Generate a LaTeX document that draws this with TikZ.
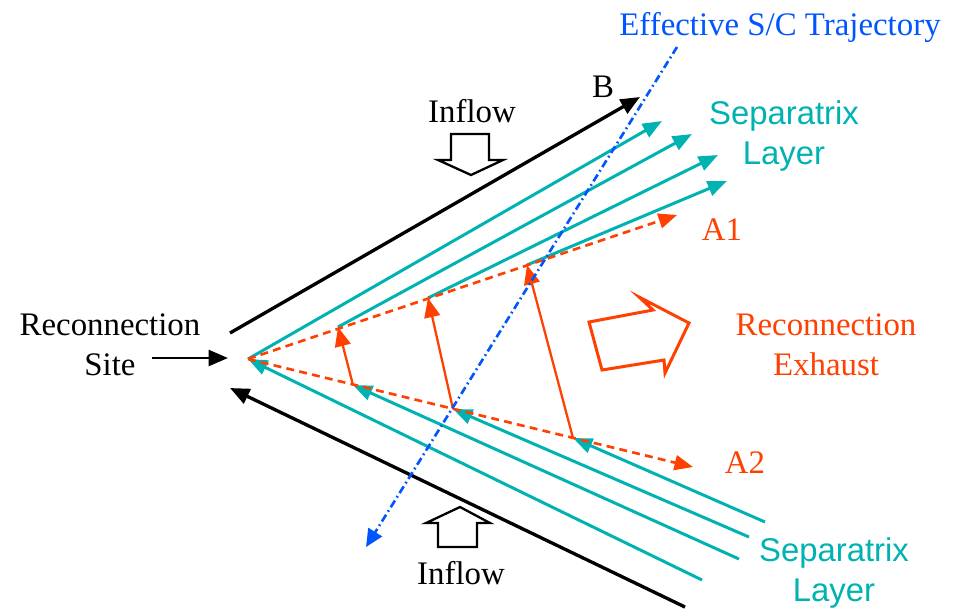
\documentclass[tikz,border=0pt]{standalone}
\usepackage{fontspec}
\setmainfont{Liberation Serif}
\newfontfamily\sepfont{Liberation Sans}
\usetikzlibrary{arrows.meta, positioning}

\definecolor{sepcol}{RGB}{0,178,178}
\definecolor{exhcol}{RGB}{255,64,0}
\definecolor{sccol}{RGB}{0,85,255}

\tikzset{
    label text/.style={inner sep=0pt, anchor=base, align=center,
        font=\fontsize{18.7}{22.7}\selectfont},
    fieldline/.style={black, line width=1.9pt, -{Triangle[length=11pt, width=9pt]}},
    sepline/.style={sepcol, line width=1.7pt, -{Triangle[length=11pt, width=8.5pt]}},
    exhline/.style={exhcol, line width=1.5pt, -{Triangle[length=10.5pt, width=8.5pt]}},
    hollow/.style={black, line width=1.3pt, fill=white, line join=miter},
}

\begin{document}
\begin{tikzpicture}[x=0.02cm, y=-0.02cm]
    \useasboundingbox (0,0) rectangle (955,609);

    % Reconnection site and exhaust edges
    \coordinate (X) at (248,359);
    \coordinate (A1end) at (677,215);
    \coordinate (A2end) at (693,467);
    \foreach \n/\x/\y in {u1/338/327, u2/428/298, u3/527/265, l1/353/385, l2/453/409, l3/573/438}
        \coordinate (\n) at (\x,\y);

    % Separatrix ends
    \foreach \n/\x/\y in {t1/662/121, t2/692/134, t3/718/155, t4/727/181,
                          b1/702/580, b2/739/559, b3/749/537, b4/765/522}
        \coordinate (\n) at (\x,\y);

    % Field lines outside the layer
    \coordinate (Bstart) at (230,333);
    \coordinate (Bend) at (640,97);
    \coordinate (Cstart) at (685,607);
    \coordinate (Cend) at (230,388);
    \draw[fieldline] (Bstart) -- (Bend);
    \draw[fieldline] (Cstart) -- (Cend);
    \node[label text] (Blabel) at (603,97) {B};

    % Separatrix layer
    \foreach \s/\e in {X/t1, u1/t2, u2/t3, u3/t4, b1/X, b2/l1, b3/l2, b4/l3}
        \draw[sepline] (\s) -- (\e);

    % Exhaust boundaries
    \draw[exhline, dash pattern=on 4.5pt off 3pt] (X) -- (A1end);
    \draw[exhline, dash pattern=on 4.5pt off 3pt] (X) -- (A2end);
    \foreach \s/\e in {l1/u1, l2/u2, l3/u3}
        \draw[exhline, line width=1.3pt, -{Triangle[length=11pt, width=9pt]}] (\s) -- (\e);
    \node[label text, exhcol] (A1) at (722,240) {A1};
    \node[label text, exhcol] (A2) at (745,473) {A2};

    % Spacecraft trajectory
    \coordinate (SCstart) at (677,47);
    \coordinate (SCend) at (366,547);
    \draw[sccol, line width=1.5pt, dash pattern=on 4.5pt off 2pt on 1pt off 2pt,
          -{Triangle[length=10pt, width=9pt]}] (SCstart) -- (SCend);
    \node[label text, sccol] (SClabel) at (780,35) {Effective S/C Trajectory};

    % Inflow arrows
    \draw[hollow] (451,134) -- (489,134) -- (489,160) -- (503,160) -- (471,175)
        -- (438,160) -- (451,160) -- cycle;
    \draw[hollow] (438,547) -- (477,547) -- (477,523) -- (490,523) -- (460,507)
        -- (426,523) -- (438,523) -- cycle;
    \node[label text] (inflowA) at (472,122) {Inflow};
    \node[label text] (inflowB) at (461,584) {Inflow};

    % Reconnection site
    \node[label text] (site) at (110,375) {Reconnection\\Site};
    \coordinate (siteA) at (152,358);
    \coordinate (siteB) at (228,358);
    \draw[fieldline, line width=1.6pt] (siteA) -- (siteB);

    % Exhaust
    \draw[exhcol, line width=1.7pt, line join=miter] (589,322) -- (653,310) -- (639,297)
        -- (689,323) -- (665,373) -- (664,360) -- (602,370) -- cycle;
    \node[label text, exhcol] (exhaust) at (826,375) {Reconnection\\Exhaust};

    % Layer labels
    \node[label text, sepcol, font=\sepfont\fontsize{18.7}{22.7}\selectfont] (sepA) at (784,164) {Separatrix\\Layer};
    \node[label text, sepcol, font=\sepfont\fontsize{18.7}{22.7}\selectfont] (sepB) at (834,601) {Separatrix\\Layer};
\end{tikzpicture}
\end{document}
